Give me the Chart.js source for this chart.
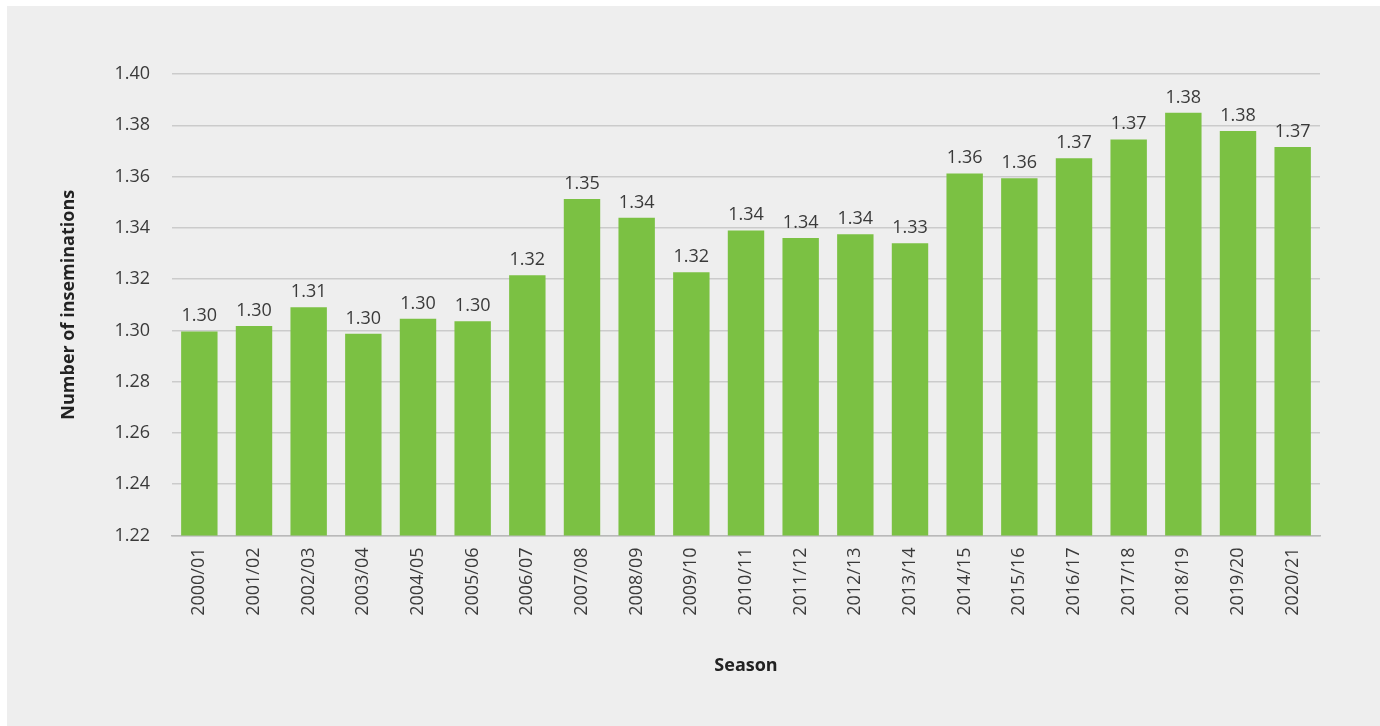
<!DOCTYPE html>
<html>
<head>
<meta charset="utf-8">
<title>Number of inseminations by season</title>
<script src="https://cdn.jsdelivr.net/npm/chart.js@4/dist/chart.umd.min.js"></script>
<style>
    html, body { margin: 0; padding: 0; background: #ffffff; }
    #wrap {
        position: absolute;
        left: 7px;
        top: 6px;
        width: 1373px;
        height: 720px;
        background: #eeeeee;
    }
</style>
</head>
<body>
<div id="wrap">
    <canvas id="chart" width="1373" height="720"></canvas>
</div>
<script>
// ===================================
// Data
// ===================================
const seasons = [
    '2000/01', '2001/02', '2002/03', '2003/04', '2004/05', '2005/06', '2006/07',
    '2007/08', '2008/09', '2009/10', '2010/11', '2011/12', '2012/13', '2013/14',
    '2014/15', '2015/16', '2016/17', '2017/18', '2018/19', '2019/20', '2020/21'
];
const inseminations = [
    1.2996, 1.3017, 1.3090, 1.2987, 1.3045, 1.3036, 1.3215,
    1.3512, 1.3439, 1.3227, 1.3390, 1.3360, 1.3375, 1.3340,
    1.3612, 1.3593, 1.3671, 1.3745, 1.3849, 1.3778, 1.3715
];
const yMin = 1.22;
const yMax = 1.40;
const yStep = 0.02;

const FONT = "'Open Sans', 'Noto Sans', sans-serif";
const BAR_GREEN = '#7bc143';
const TEXT_DARK = '#3a3a3a';
const GRID_GREY = '#cbcbcb';

// Value labels above each bar
const valueLabels = {
    id: 'valueLabels',
    afterDatasetsDraw(chart) {
        const ctx = chart.ctx;
        const meta = chart.getDatasetMeta(0);
        ctx.save();
        ctx.font = '18px ' + FONT;
        ctx.fillStyle = TEXT_DARK;
        ctx.textAlign = 'center';
        ctx.textBaseline = 'alphabetic';
        meta.data.forEach((bar, i) => {
            const v = chart.data.datasets[0].data[i];
            ctx.fillText(v.toFixed(2), bar.x, bar.y - 10);
        });
        ctx.restore();
    }
};

const ctx = document.getElementById('chart').getContext('2d');

new Chart(ctx, {
    type: 'bar',
    data: {
        labels: seasons,
        datasets: [{
            data: inseminations,
            backgroundColor: BAR_GREEN,
            borderWidth: 0,
            barPercentage: 0.666,
            categoryPercentage: 1
        }]
    },
    options: {
        responsive: false,
        animation: false,
        layout: {
            padding: { left: 0, right: 60, top: 68, bottom: 0 }
        },
        plugins: {
            legend: { display: false },
            tooltip: { enabled: false }
        },
        scales: {
            x: {
                grid: { display: false, drawTicks: false },
                border: { display: true, color: '#b9b9b9', width: 1.5 },
                ticks: {
                    color: TEXT_DARK,
                    font: { family: FONT, size: 18 },
                    minRotation: 90,
                    maxRotation: 90,
                    padding: 12,
                    autoSkip: false
                },
                title: {
                    display: true,
                    text: 'Season',
                    color: '#222222',
                    font: { family: FONT, size: 18, weight: 'bold' },
                    padding: { top: 0, bottom: 49 }
                },
                afterFit(scale) {
                    scale.height = 190.5;
                }
            },
            y: {
                min: yMin,
                max: yMax,
                grid: { color: GRID_GREY, lineWidth: 1.5, drawTicks: false },
                border: { display: false },
                ticks: {
                    stepSize: yStep,
                    color: TEXT_DARK,
                    font: { family: FONT, size: 18 },
                    padding: 22,
                    callback: v => v.toFixed(2)
                },
                title: {
                    display: true,
                    text: 'Number of inseminations',
                    color: '#222222',
                    font: { family: FONT, size: 18, weight: 'bold' },
                    padding: { top: 51, bottom: 0 }
                },
                afterFit(scale) {
                    scale.width = 165;
                }
            }
        }
    },
    plugins: [valueLabels]
});
</script>
</body>
</html>
